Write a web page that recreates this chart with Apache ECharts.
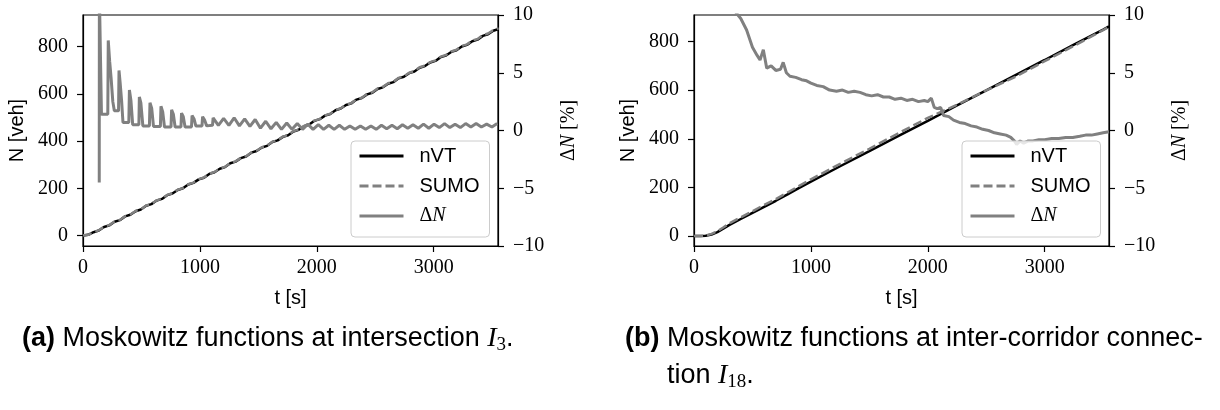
<!DOCTYPE html>
<html>
<head>
<meta charset="utf-8">
<script src="https://cdn.jsdelivr.net/npm/echarts@6.0.0/dist/echarts.min.js"></script>
<style>
  html, body { margin: 0; padding: 0; background: #fff; }
  #chart { width: 1220px; height: 410px; }
</style>
</head>
<body>
<div id="chart"></div>
<script>
// ---- data ----
var xTicks = [0, 1000, 2000, 3000];
var nTicks = [0, 200, 400, 600, 800];

// (a) intersection I3 : cumulative counts every 45 s
var tA = [0,45,90,135,180,225,270,315,360,405,450,495,540,585,630,675,720,765,810,855,
  900,945,990,1035,1080,1125,1170,1215,1260,1305,1350,1395,1440,1485,1530,1575,1620,1665,1710,1755,
  1800,1845,1890,1935,1980,2025,2070,2115,2160,2205,2250,2295,2340,2385,2430,2475,2520,2565,2610,2655,
  2700,2745,2790,2835,2880,2925,2970,3015,3060,3105,3150,3195,3240,3285,3330,3375,3420,3465,3510,3555];
var nvtA = [0,3,14,21,36,43,58,65,81,88,103,110,126,133,148,155,171,178,193,200,
  216,223,238,245,261,268,283,290,306,313,328,335,351,358,373,380,396,403,418,425,
  441,448,463,470,486,493,508,515,531,538,553,560,576,583,598,605,621,628,643,650,
  666,673,688,695,711,718,733,740,756,763,778,785,801,808,823,830,846,853,868,875];
var sumoA = [0,3,14,22,37,44,59,66,82,89,104,111,127,134,149,156,172,179,194,201,
  217,224,239,246,262,269,284,291,307,314,329,336,352,359,374,381,397,404,419,426,
  442,449,464,471,487,494,509,516,532,539,554,561,577,584,600,607,623,630,645,652,
  668,675,690,697,713,720,735,742,758,765,780,787,803,810,826,833,849,856,871,878];
var dnAT = [139,140,158,212,216,228,240,255,268,304,308,318,330,342,392,397,410,425,478,482,
  495,512,568,573,588,603,662,667,682,697,753,758,773,788,838,843,858,873,928,933,
  950,965,1018,1023,1040,1058,1108,
  1113,1158,1203,1248,1293,1338,1383,1428,1473,1518,1563,1608,1653,1698,1743,1788,1833,1878,1923,1968,
  2013,2058,2103,2148,2193,2238,2283,2328,2373,2418,2463,2508,2553,2598,2643,2688,2733,2778,2823,2868,
  2913,2958,3003,3048,3093,3138,3183,3228,3273,3318,3363,3408,3453,3498,3543];
var dnAV = [-4.5,12,1.4,1.4,7.8,6.0,4.6,2.5,1.7,1.7,5.2,4.1,2.6,0.7,0.7,3.5,2.6,0.5,0.5,2.9,
  2.4,0.4,0.4,2.4,1.9,0.35,0.35,2.1,1.6,0.3,0.3,1.8,1.4,0.3,0.3,1.5,1.2,0.3,0.3,1.3,
  1.0,0.4,0.4,1.2,0.9,0.4,0.45,
  1.1,0.45,1.05,0.45,1.1,0.4,1.0,0.35,0.95,0.2,0.8,0.15,0.7,0.1,0.65,0.1,0.6,0.1,0.55,0.1,
  0.5,0.1,0.45,0.1,0.45,0.1,0.4,0.1,0.4,0.1,0.4,0.1,0.45,0.15,0.45,0.15,0.5,0.2,0.5,0.2,
  0.55,0.2,0.55,0.25,0.6,0.25,0.55,0.25,0.6,0.3,0.6,0.3,0.55,0.3,0.6];

// (b) inter-corridor connection I18
var tB = [0,60,100,150,200,250,300,400,500,600,700,800,900,1000,1250,1500,1750,2000,2250,2500,2750,3000,3250,3500,3550];
var nvtB = [0,0,1,6,16,30,45,70,95,120,145,171,198,224,287,349,412,474,537,599,662,724,787,849,862];
var sumoB = [0,0,2,9,20,35,51,77,102,128,152,179,206,233,297,359,423,486,540,599,655,719,782,847,860];
var dnBT = [300,360,400,450,500,540,565,593,622,660,700,740,763,790,821,870,920,963,1000,1050,
  1105,1160,1219,1270,1320,1370,1420,1470,1520,1570,1620,1670,1720,1770,1820,1870,1920,1970,2000,2030,
  2055,2080,2110,2135,2180,2220,2270,2320,2370,2420,2470,2520,2570,2620,2670,2710,2740,2760,2790,2820,
  2860,2900,2950,3000,3060,3120,3180,3240,3300,3350,3400,3450,3500,3550];
var dnBV = [11.5,10.2,9.7,8.7,7.2,6.5,6.1,7.0,5.4,5.6,5.2,5.3,5.9,5.0,4.7,4.6,4.4,4.3,4.1,3.9,
  3.8,3.5,3.4,3.5,3.3,3.4,3.3,3.1,3.0,3.1,2.9,2.9,2.7,2.8,2.6,2.7,2.5,2.6,2.5,2.8,
  2.0,1.9,2.0,1.3,1.2,0.9,0.7,0.6,0.4,0.3,0.1,0.0,-0.2,-0.3,-0.4,-0.6,-0.9,-1.2,-0.9,-1.1,
  -0.9,-0.9,-0.8,-0.8,-0.7,-0.7,-0.6,-0.6,-0.5,-0.4,-0.4,-0.3,-0.2,-0.1];

var tMax = 3550;
var nRangeA = [-44.5, 934.5];
var nRangeB = [-41, 909];

// ---- helpers ----
var serif = 'Liberation Serif', sans = 'Liberation Sans';
var gray = '#808080';

function pairs(ts, vs) {
  return ts.map(function (t, i) { return [t, vs[i]]; });
}

function xAxisFor(gi) {
  return {
    type: 'value', gridIndex: gi, min: 0, max: tMax,
    name: 't [s]', nameLocation: 'middle', nameGap: 42,
    nameTextStyle: { fontFamily: sans, fontSize: 20, color: '#000' },
    axisLine: { show: true, onZero: false, lineStyle: { color: '#000', width: 1.2 } },
    axisTick: { show: true, length: 6, customValues: xTicks, lineStyle: { color: '#000', width: 1.2 } },
    axisLabel: { customValues: xTicks, margin: 12, fontFamily: serif, fontSize: 20, color: '#000',
      formatter: function (v) { return String(v); } },
    splitLine: { show: false }
  };
}

function nAxisFor(gi, range) {
  return {
    type: 'value', gridIndex: gi, position: 'left', min: range[0], max: range[1],
    name: 'N [veh]', nameLocation: 'middle', nameRotate: 90, nameGap: 56,
    nameTextStyle: { fontFamily: sans, fontSize: 20, color: '#000' },
    axisLine: { show: true, onZero: false, lineStyle: { color: '#000', width: 1.2 } },
    axisTick: { show: true, length: 6, customValues: nTicks, lineStyle: { color: '#000', width: 1.2 } },
    axisLabel: { customValues: nTicks, margin: 15, fontFamily: serif, fontSize: 20, color: '#000',
      formatter: function (v) { return String(v); } },
    splitLine: { show: false }
  };
}

function dnAxisFor(gi) {
  return {
    type: 'value', gridIndex: gi, position: 'right', min: -10, max: 10, interval: 5,
    name: '{d|Δ}{n|N}{d| [%]}', nameLocation: 'middle', nameRotate: 90, nameGap: 61,
    nameTextStyle: {
      fontFamily: serif, fontSize: 20, color: '#000',
      rich: {
        d: { fontFamily: serif, fontSize: 20, color: '#000' },
        n: { fontFamily: serif, fontStyle: 'italic', fontSize: 20, color: '#000' }
      }
    },
    axisLine: { show: true, onZero: false, lineStyle: { color: '#000', width: 1.2 } },
    axisTick: { show: true, length: 6, lineStyle: { color: '#000', width: 1.2 } },
    axisLabel: {
      margin: 15, fontFamily: serif, fontSize: 20, color: '#000',
      formatter: function (v) { return String(v).replace('-', '\u2212'); }
    },
    splitLine: { show: false }
  };
}

function seriesFor(gi, ts, nvt, sumo, dts, dvs) {
  var xi = gi, yl = gi * 2, yr = gi * 2 + 1;
  return [
    { name: 'nVT', type: 'line', xAxisIndex: xi, yAxisIndex: yl, data: pairs(ts, nvt),
      symbol: 'none', color: '#000', lineStyle: { color: '#000', width: 2.5 } },
    { name: 'SUMO', type: 'line', xAxisIndex: xi, yAxisIndex: yl, data: pairs(ts, sumo),
      symbol: 'none', color: gray, lineStyle: { color: gray, width: 2.5, type: [9, 4] } },
    { name: 'ΔN', type: 'line', xAxisIndex: xi, yAxisIndex: yr, data: pairs(dts, dvs),
      symbol: 'none', color: gray, lineStyle: { color: gray, width: 3 } }
  ];
}

function legendAt(left) {
  return {
    orient: 'vertical', left: left, top: 141,
    data: ['nVT', 'SUMO', 'ΔN'],
    itemWidth: 44, itemHeight: 16, itemGap: 10,
    padding: [5, 10, 11, 7],
    backgroundColor: 'rgba(255,255,255,0.8)',
    borderColor: '#cccccc', borderWidth: 1, borderRadius: 4,
    selectedMode: false,
    // hide the symbol drawn in the middle of the line icon
    itemStyle: { color: 'rgba(0,0,0,0)', borderColor: 'rgba(0,0,0,0)', borderWidth: 0, opacity: 0 },
    lineStyle: { width: 3 },
    formatter: function (name) { return name === 'ΔN' ? '{d|Δ}{n|N}' : name; },
    textStyle: {
      fontFamily: sans, fontSize: 20, color: '#000', lineHeight: 16, padding: [0, 0, 0, 11],
      rich: {
        d: { fontFamily: serif, fontSize: 20, color: '#000' },
        n: { fontFamily: serif, fontStyle: 'italic', fontSize: 20, color: '#000' }
      }
    }
  };
}

var capRich = {
  b: { fontFamily: sans, fontWeight: 'bold', fontSize: 27, color: '#000' },
  i: { fontFamily: serif, fontStyle: 'italic', fontSize: 28, color: '#000' },
  s: { fontFamily: serif, fontSize: 19, color: '#000', padding: [12, 0, 0, 0] }
};
var capFont = '27px "Liberation Sans"';

var chart = echarts.init(document.getElementById('chart'));
chart.setOption({
  animation: false,
  backgroundColor: '#fff',
  grid: [
    { left: 83, top: 15, width: 415, height: 231, show: true, borderColor: '#000', borderWidth: 1.2, backgroundColor: 'transparent' },
    { left: 694, top: 15, width: 415, height: 231, show: true, borderColor: '#000', borderWidth: 1.2, backgroundColor: 'transparent' }
  ],
  xAxis: [xAxisFor(0), xAxisFor(1)],
  yAxis: [nAxisFor(0, nRangeA), dnAxisFor(0), nAxisFor(1, nRangeB), dnAxisFor(1)],
  legend: [legendAt(351), legendAt(962)],
  series: seriesFor(0, tA, nvtA, sumoA, dnAT, dnAV).concat(seriesFor(1, tB, nvtB, sumoB, dnBT, dnBV)),
  graphic: [
    { type: 'text', left: 22, top: 325, style: {
      text: '{b|(a)} Moskowitz functions at intersection {i|I}{s|3}.',
      font: capFont, fill: '#000', rich: capRich } },
    { type: 'text', left: 625, top: 325, style: {
      text: '{b|(b)} Moskowitz functions at inter-corridor connec-',
      font: capFont, fill: '#000', rich: capRich } },
    { type: 'text', left: 667, top: 362, style: {
      text: 'tion {i|I}{s|18}.',
      font: capFont, fill: '#000', rich: capRich } }
  ]
});
</script>
</body>
</html>
